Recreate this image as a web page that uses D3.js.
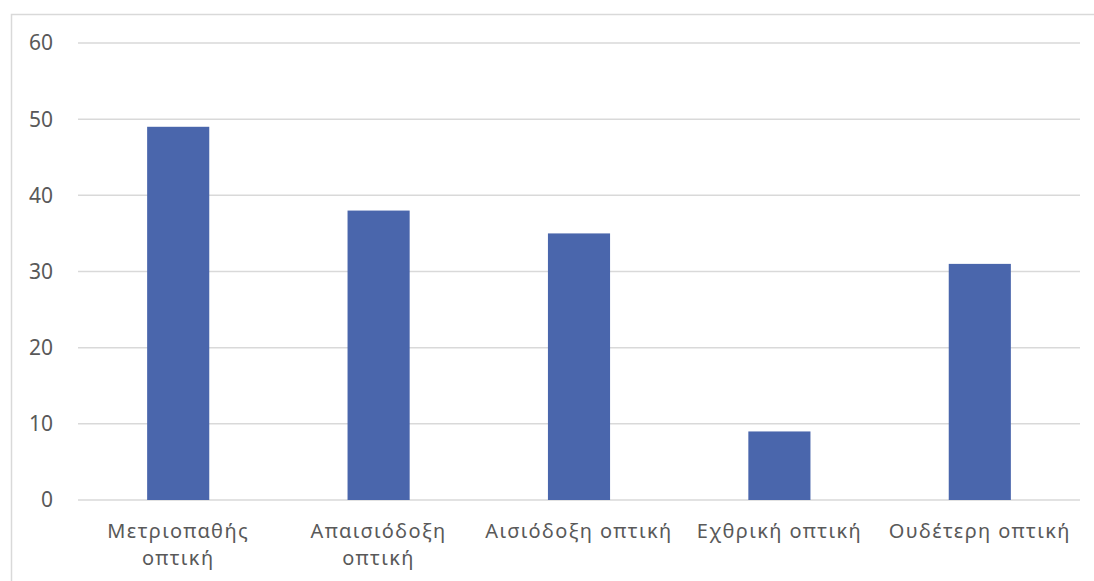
<!doctype html>
<meta charset="utf-8">
<style>
  body { margin: 0; background: #fff; }
  text { font-family: "Noto Sans", "DejaVu Sans", sans-serif; fill: #595959; }
</style>
<script src="https://d3js.org/d3.v7.min.js"></script>
<body>
<svg id="chart"></svg>
<script>
var categories = ["Μετριοπαθής οπτική", "Απαισιόδοξη οπτική", "Αισιόδοξη οπτική", "Εχθρική οπτική", "Ουδέτερη οπτική"];
var values = [49, 38, 35, 9, 31];
var yTicks = [0, 10, 20, 30, 40, 50, 60];

var width = 1094, height = 581;
var margin = {top: 43, right: 14, bottom: 81, left: 78};

var svg = d3.select("#chart").attr("width", width).attr("height", height);

// chart frame
svg.append("rect")
  .attr("x", 11.5).attr("y", 14.5)
  .attr("width", width + 10).attr("height", height + 10)
  .attr("fill", "none").attr("stroke", "#d9d9d9").attr("stroke-width", 1.5);

var x = d3.scaleBand()
  .domain(categories)
  .range([margin.left, width - margin.right])
  .paddingInner(0.69).paddingOuter(0.345);

var y = d3.scaleLinear()
  .domain([0, 60])
  .range([height - margin.bottom, margin.top]);

// gridlines
svg.append("g").selectAll("line")
  .data(yTicks)
  .enter().append("line")
    .attr("x1", margin.left).attr("x2", width - margin.right)
    .attr("y1", function(d){ return y(d); })
    .attr("y2", function(d){ return y(d); })
    .attr("stroke", "#d9d9d9").attr("stroke-width", 1.5);

// y labels
svg.append("g").selectAll("text")
  .data(yTicks)
  .enter().append("text")
    .attr("x", 53)
    .attr("y", function(d){ return y(d); })
    .attr("dy", "0.35em")
    .attr("text-anchor", "end")
    .style("font-size", "21px")
    .text(function(d){ return d; });

// bars
svg.append("g").selectAll("rect")
  .data(values)
  .enter().append("rect")
    .attr("x", function(d, i){ return x(categories[i]); })
    .attr("y", function(d){ return y(d); })
    .attr("width", x.bandwidth())
    .attr("height", function(d){ return y(0) - y(d); })
    .attr("fill", "#4a66ac");

// category labels, wrapped to the band step
var step = x.step();
var labels = svg.append("g").selectAll("text")
  .data(categories)
  .enter().append("text")
    .attr("x", function(d){ return x(d) + x.bandwidth() / 2; })
    .attr("y", 538)
    .attr("text-anchor", "middle")
    .style("font-size", "20px")
    .style("letter-spacing", "1.4px")
    .text(function(d){ return d; });

labels.each(function(d){
  var t = d3.select(this);
  if (this.getComputedTextLength() <= step - 4) return;
  var words = d.split(" ");
  var cx = t.attr("x");
  t.text(null);
  words.forEach(function(w, i){
    t.append("tspan").attr("x", cx).attr("dy", i === 0 ? 0 : 27).text(w);
  });
});
</script>
</body>
